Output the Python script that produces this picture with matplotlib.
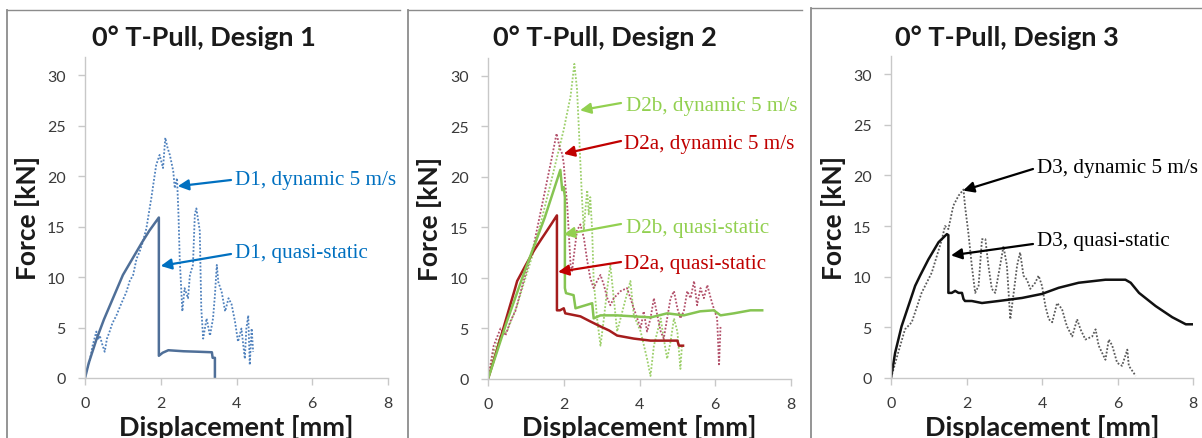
import matplotlib
matplotlib.use("Agg")
import matplotlib.pyplot as plt
from matplotlib.lines import Line2D

# ---------------- data ----------------
d1_qs_x = [0, 0.1, 0.3, 0.5, 1.0, 1.5, 1.7, 1.95, 1.95, 2.05, 2.2, 2.6, 3.0, 3.35, 3.37, 3.43, 3.43]
d1_qs_y = [0, 1.5, 3.8, 5.8, 10.2, 13.4, 14.6, 15.9, 2.2, 2.5, 2.75, 2.65, 2.6, 2.55, 2.0, 2.0, 0]

d1_dyn_x = [0, 0.05, 0.12, 0.2, 0.3, 0.35, 0.39, 0.45, 0.52, 0.58, 0.65, 0.72, 0.83, 0.95, 1.09, 1.18,
            1.27, 1.36, 1.44, 1.52, 1.62, 1.68, 1.75, 1.82, 1.88, 1.97, 2.06, 2.12, 2.18, 2.24, 2.33,
            2.37, 2.43, 2.47, 2.5, 2.57, 2.63, 2.72, 2.77, 2.85, 2.9, 2.94, 3.03, 3.07, 3.12, 3.21,
            3.3, 3.38, 3.43, 3.48, 3.52, 3.61, 3.7, 3.79, 3.87, 3.96, 4.04, 4.13, 4.22, 4.26, 4.31,
            4.35, 4.4, 4.44]
d1_dyn_y = [0, 0.8, 1.6, 3.2, 4.6, 3.8, 4.2, 3.4, 2.6, 3.9, 4.6, 5.4, 6.2, 7.3, 8.5, 9.6,
            10.2, 11.8, 12.5, 13.4, 14.8, 16.2, 17.8, 19.6, 21.1, 22.1, 20.8, 23.8, 22.8, 22.1, 20.5,
            18.8, 19.8, 16.0, 11.9, 6.6, 8.9, 7.9, 10.2, 11.2, 16.2, 16.8, 14.6, 6.9, 3.9, 5.9,
            4.2, 5.9, 8.2, 11.2, 9.5, 8.5, 6.6, 7.9, 7.3, 5.6, 3.6, 4.9, 1.9, 4.9, 6.2,
            1.3, 4.9, 2.6]

d2a_qs_x = [0, 0.35, 0.71, 0.77, 1.0, 1.21, 1.4, 1.56, 1.7, 1.82, 1.82, 1.9, 2.0, 2.04, 2.44, 2.7,
            2.97, 3.2, 3.41, 3.85, 4.29, 4.7, 5.0, 5.04, 5.15]
d2a_qs_y = [0, 4.3, 8.9, 9.7, 11.3, 12.7, 13.8, 14.7, 15.5, 16.2, 6.8, 6.8, 7.0, 6.5, 6.2, 5.7,
            5.2, 4.8, 4.3, 4.0, 3.8, 3.8, 3.8, 3.3, 3.3]

d2b_qs_x = [0, 0.5, 1.0, 1.5, 1.91, 1.96, 2.0, 2.03, 2.03, 2.06, 2.26, 2.31, 2.75, 2.79, 2.97, 3.4,
            3.85, 4.3, 4.73, 5.17, 5.6, 5.96, 6.14, 6.49, 6.93, 7.24]
d2b_qs_y = [0, 5.7, 11.0, 16.0, 20.7, 18.7, 19.0, 18.0, 9.0, 8.5, 8.3, 7.0, 7.5, 6.0, 6.3, 6.3,
            6.2, 6.1, 6.5, 6.3, 6.7, 6.8, 6.3, 6.5, 6.8, 6.8]

d2a_dyn_x = [0, 0.15, 0.33, 0.46, 0.59, 0.72, 0.94, 1.21, 1.47, 1.69, 1.81, 1.87, 1.91, 1.96, 2.0,
             2.04, 2.09, 2.13, 2.18, 2.22, 2.26, 2.35, 2.44, 2.53, 2.62, 2.7, 2.79, 2.88, 2.97,
             3.06, 3.15, 3.23, 3.32, 3.5, 3.67, 3.76, 3.85, 3.94, 4.03, 4.11, 4.2, 4.29, 4.38,
             4.47, 4.56, 4.64, 4.73, 4.82, 4.91, 5.0, 5.08, 5.17, 5.26, 5.35, 5.44, 5.52, 5.61,
             5.7, 5.79, 5.88, 5.96, 6.05, 6.1, 6.14]
d2a_dyn_y = [0, 3.3, 5.0, 4.3, 5.7, 6.7, 9.7, 13.3, 18.0, 22.0, 24.3, 23.3, 22.7, 22.3, 21.3,
             19.3, 17.3, 14.7, 11.3, 10.7, 12.0, 14.7, 15.3, 14.0, 11.7, 10.0, 9.0, 9.7, 10.3,
             9.3, 8.0, 7.3, 8.0, 8.7, 9.0, 8.0, 7.0, 6.0, 5.0, 6.7, 4.7, 6.0, 8.0,
             6.3, 4.7, 4.0, 6.0, 8.0, 8.7, 7.0, 6.0, 6.7, 8.7, 8.0, 9.7, 7.3, 9.0,
             8.0, 9.3, 8.0, 7.0, 6.0, 1.3, 5.3]

d2b_dyn_x = [0, 0.15, 0.33, 0.5, 0.77, 1.21, 1.65, 2.0, 2.18, 2.28, 2.35, 2.4, 2.44, 2.48, 2.53,
             2.57, 2.62, 2.66, 2.7, 2.75, 2.79, 2.88, 2.97, 3.06, 3.15, 3.23, 3.32, 3.41, 3.59,
             3.76, 3.85, 4.03, 4.2, 4.29, 4.38, 4.56, 4.64, 4.73, 4.82, 4.91, 5.0, 5.08, 5.12]
d2b_dyn_y = [0, 2.7, 4.3, 4.7, 7.3, 12.7, 19.3, 24.7, 28.0, 31.2, 28.7, 24.7, 21.3, 18.0, 14.7,
             16.7, 18.7, 16.3, 18.0, 14.7, 9.7, 6.0, 3.3, 6.0, 9.0, 11.3, 8.0, 4.7, 7.3,
             9.7, 6.3, 4.7, 2.0, 0.3, 3.3, 6.0, 4.0, 2.0, 3.7, 6.0, 4.7, 1.0, 3.3]

d3_qs_x = [0, 0.11, 0.28, 0.46, 0.64, 0.77, 0.99, 1.26, 1.48, 1.52, 1.52, 1.61, 1.7, 1.79, 1.88,
           1.92, 1.96, 2.14, 2.41, 2.85, 3.47, 4.0, 4.44, 4.97, 5.68, 6.21, 6.35, 6.57, 7.01,
           7.45, 7.81, 7.98]
d3_qs_y = [0, 2.5, 5.1, 7.1, 9.1, 10.1, 11.7, 13.4, 14.2, 14.1, 8.4, 8.4, 8.6, 8.4, 8.4,
           7.8, 7.6, 7.6, 7.4, 7.6, 7.9, 8.3, 8.9, 9.4, 9.7, 9.7, 9.4, 8.4, 7.1,
           6.0, 5.3, 5.3]

d3_dyn_x = [0, 0.19, 0.37, 0.55, 0.81, 1.08, 1.35, 1.43, 1.52, 1.65, 1.79, 1.92, 1.96, 2.05,
            2.14, 2.23, 2.32, 2.41, 2.5, 2.58, 2.67, 2.76, 2.89, 2.98, 3.07, 3.16, 3.25, 3.34,
            3.42, 3.51, 3.6, 3.69, 3.82, 3.91, 4.0, 4.09, 4.18, 4.27, 4.4, 4.53, 4.66, 4.8,
            4.93, 5.02, 5.15, 5.33, 5.42, 5.5, 5.68, 5.77, 5.86, 5.99, 6.12, 6.26, 6.3, 6.43,
            6.48]
d3_dyn_y = [0, 2.5, 4.8, 5.5, 8.4, 10.4, 13.7, 15.0, 14.7, 17.0, 18.0, 18.6, 17.0, 14.3,
            11.1, 8.4, 9.1, 13.7, 13.7, 11.1, 8.8, 8.4, 11.1, 13.0, 11.1, 5.8, 8.4, 11.1,
            12.4, 10.1, 9.7, 8.8, 9.4, 10.1, 9.1, 7.1, 5.8, 5.5, 7.4, 6.8, 5.1, 4.1,
            5.8, 4.8, 3.8, 4.1, 4.8, 3.2, 1.8, 3.8, 3.2, 1.5, 1.2, 2.8, 1.2, 0.5,
            0.2]

titles = ["0° T-Pull, Design 1", "0° T-Pull, Design 2", "0° T-Pull, Design 3"]
x_ticks = [0, 2, 4, 6, 8]
y_ticks = [0, 5, 10, 15, 20, 25, 30]
x_label = "Displacement [mm]"
y_label = "Force [kN]"

# ---------------- styling ----------------
W, H = 1202, 439
fig = plt.figure(figsize=(W / 100, H / 100), dpi=100)
SANS = ["Lato", "DejaVu Sans"]
SERIF = ["Liberation Serif", "DejaVu Serif"]

BLUE_T = "#0070C0"
GREEN_T = "#92D050"
RED_T = "#C00000"

# panel frames: (left, top, right) in pixels
frames = [(7, 11, 400), (408, 11, 802), (811, 9, 1202)]
for (l, t, r) in frames:
    fig.add_artist(Line2D([l / W, l / W], [0, 1 - t / H], color="#8c8c8c", lw=1.3))
    fig.add_artist(Line2D([l / W, r / W], [1 - t / H, 1 - t / H], color="#8c8c8c", lw=1.0))

# axes boxes in pixels: (x0, x8, y0, ytop)
boxes = [(85, 388, 379, 58), (488, 791, 380, 58.8), (891, 1193, 379, 56.8)]
axes = []
for (x0, x8, y0, yt) in boxes:
    ax = fig.add_axes([x0 / W, 1 - y0 / H, (x8 - x0) / W, (y0 - yt) / H])
    ax.set_xlim(0, 8)
    ax.set_ylim(0, 31.8)
    ax.set_xticks(x_ticks)
    ax.set_yticks(y_ticks)
    for s in ["top", "right"]:
        ax.spines[s].set_visible(False)
    for s in ["left", "bottom"]:
        ax.spines[s].set_color("#c8c8c8")
        ax.spines[s].set_linewidth(1.0)
    ax.tick_params(axis="both", direction="out", length=5, width=1.0, color="#c8c8c8",
                   labelcolor="#3a3a3a", labelsize=11.5)
    ax.tick_params(axis="x", pad=8)
    ax.tick_params(axis="y", pad=9)
    for lab in ax.get_xticklabels() + ax.get_yticklabels():
        lab.set_family(SANS)
    ax.patch.set_alpha(0)
    axes.append(ax)

ax1, ax2, ax3 = axes

# panel 1
ax1.plot(d1_dyn_x, d1_dyn_y, linestyle=(0, (1, 1)), color="#4f81bd", lw=1.3)
ax1.plot(d1_qs_x, d1_qs_y, color="#4f6f98", lw=1.8)

# panel 2
ax2.plot(d2b_dyn_x, d2b_dyn_y, linestyle=(0, (1, 1)), color="#9ccf6a", lw=1.3)
ax2.plot(d2a_dyn_x, d2a_dyn_y, linestyle=(0, (1, 1)), color="#b2506a", lw=1.3)
ax2.plot(d2a_qs_x, d2a_qs_y, color="#a51d1d", lw=1.8)
ax2.plot(d2b_qs_x, d2b_qs_y, color="#86c452", lw=1.8)

# panel 3
ax3.plot(d3_dyn_x, d3_dyn_y, linestyle=(0, (1, 1)), color="#5a5a5a", lw=1.3)
ax3.plot(d3_qs_x, d3_qs_y, color="#111111", lw=1.8)

# titles, axis labels
for (l, t, r), title in zip(frames, titles):
    fig.text((l + r) / 2 / W, 1 - 46 / H, title, ha="center", va="baseline",
             fontsize=19.5, fontweight="bold", family=SANS, color="#1a1a1a")

ylab_x = [40, 442, 846]
for (x0, x8, y0, yt), yx in zip(boxes, ylab_x):
    fig.text(yx / W, 1 - (y0 + yt) / 2 / H, y_label, rotation=90, ha="right", va="center",
             fontsize=19, fontweight="bold", family=SANS, color="#1a1a1a")
    fig.text((x0 + x8) / 2 / W, 1 - 415 / H, x_label, ha="center", va="top",
             fontsize=19.5, fontweight="bold", family=SANS, color="#1a1a1a")

# annotations: (axes, text, color, text-left px, text-center-y px, tail px, head data)
notes = [
    (ax1, "D1, dynamic 5 m/s", BLUE_T, 235, 180, (231, 181), (2.45, 19.0)),
    (ax1, "D1, quasi-static", BLUE_T, 235, 254, (231, 255), (2.0, 11.1)),
    (ax2, "D2b, dynamic 5 m/s", GREEN_T, 626, 107, (621, 104), (2.43, 26.6)),
    (ax2, "D2a, dynamic 5 m/s", RED_T, 624, 145, (621, 142), (2.0, 22.3)),
    (ax2, "D2b, quasi-static", GREEN_T, 626, 228, (621, 225), (2.0, 14.3)),
    (ax2, "D2a, quasi-static", RED_T, 624, 265, (621, 263), (1.85, 10.6)),
    (ax3, "D3, dynamic 5 m/s", "black", 1037, 168, (1033, 170), (1.91, 18.5)),
    (ax3, "D3, quasi-static", "black", 1037, 242, (1033, 245), (1.59, 12.1)),
]
for ax, txt, c, tx, ty, tail, head in notes:
    fig.text(tx / W, 1 - ty / H, txt, ha="left", va="center", fontsize=15.2,
             family=SERIF, color=c)
    ax.annotate("", xy=head, xycoords="data",
                xytext=(tail[0], H - tail[1]), textcoords="figure pixels",
                arrowprops=dict(arrowstyle="-|>", color=c, lw=1.6, mutation_scale=16,
                                shrinkA=0, shrinkB=0),
                annotation_clip=False)

fig.savefig("out.png", dpi=100)
